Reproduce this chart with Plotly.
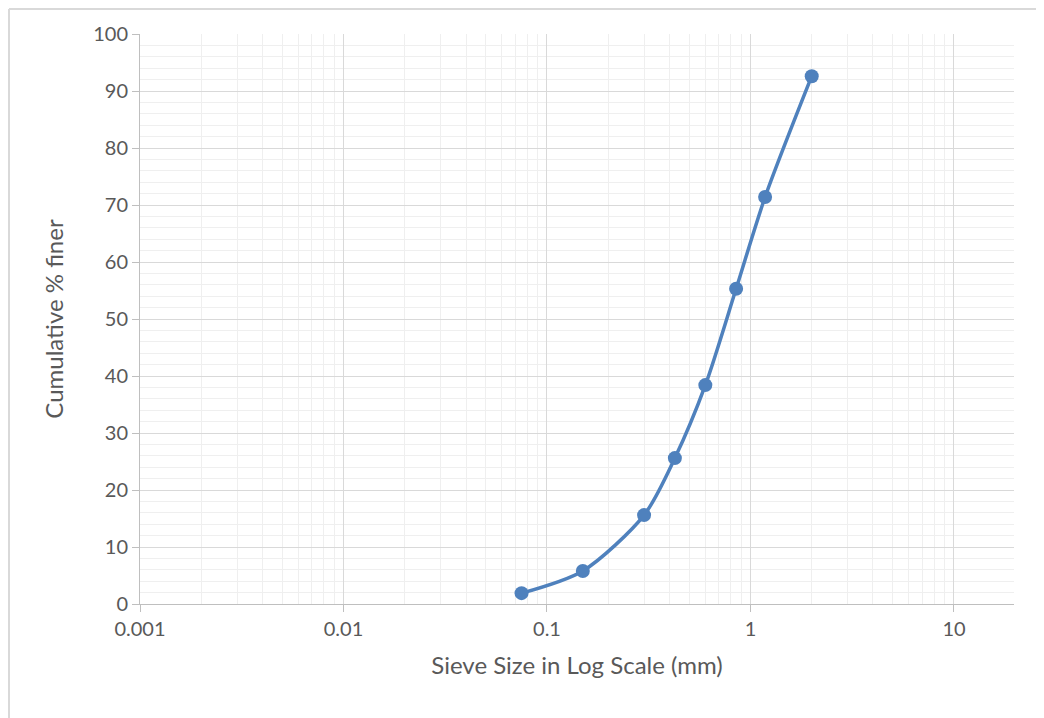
import plotly.graph_objects as go

sieve_mm = [0.075, 0.15, 0.3, 0.425, 0.6, 0.85, 1.18, 2.0]
pct_finer = [1.9, 5.8, 15.6, 25.6, 38.4, 55.3, 71.4, 92.6]
x_ticks = [0.001, 0.01, 0.1, 1, 10]
x_tick_labels = ["0.001", "0.01", "0.1", "1", "10"]
x_minor = [m * d for d in [0.001, 0.01, 0.1, 1] for m in range(2, 10)]

# page has an 8px body margin; figure sized to fill the rest of the window
OFF = 8
W, H = 1044 - OFF, 718 - OFF
L, R, T, B = 140 - OFF, 30, 34 - OFF, 114
pw, ph = W - L - R, H - T - B

fig = go.Figure(go.Scatter(
    x=sieve_mm, y=pct_finer, mode="lines+markers",
    line=dict(color="#4F81BD", width=3.5, shape="spline", smoothing=0.8),
    marker=dict(color="#4F81BD", size=14),
    showlegend=False, cliponaxis=False))

font = "Lato, Noto Sans, sans-serif"
fig.update_layout(
    width=W, height=H, margin=dict(l=L, r=R, t=T, b=B),
    paper_bgcolor="white", plot_bgcolor="white",
    font=dict(family=font, color="#595959", size=20),
    xaxis=dict(type="log", range=[-3, 1.295], tickvals=x_ticks, ticktext=x_tick_labels,
               showgrid=True, gridcolor="#D9D9D9", gridwidth=1,
               minor=dict(tickvals=x_minor, showgrid=True, gridcolor="#EFEFEF", gridwidth=1, ticks=""),
               showline=True, linecolor="#BFBFBF", linewidth=1,
               ticks="outside", ticklen=7, tickcolor="#BFBFBF",
               zeroline=False, tickfont=dict(size=20),
               title=dict(text="Sieve Size in Log Scale (mm)", font=dict(size=24), standoff=18)),
    yaxis=dict(range=[0, 100], dtick=10, showgrid=True, gridcolor="#D9D9D9", gridwidth=1,
               minor=dict(dtick=2, showgrid=True, gridcolor="#EFEFEF", gridwidth=1, ticks=""),
               showline=True, linecolor="#BFBFBF", linewidth=1,
               ticks="outside", ticklen=7, tickcolor="#BFBFBF",
               zeroline=False, tickfont=dict(size=20),
               title=dict(text="Cumulative % finer", font=dict(size=24), standoff=22)),
)

# outer chart border: only left and top edges are visible in the reference
bx0 = (1 - L) / pw
by_top = (ph + T - 1) / ph
by_bot = -(B) / ph
fig.add_shape(type="line", xref="paper", yref="paper", x0=bx0, x1=bx0, y0=by_bot, y1=by_top,
              line=dict(color="#D9D9D9", width=2), layer="below")
fig.add_shape(type="line", xref="paper", yref="paper", x0=bx0, x1=(W - L) / pw, y0=by_top, y1=by_top,
              line=dict(color="#D9D9D9", width=2), layer="below")

fig.write_html("out.html")
